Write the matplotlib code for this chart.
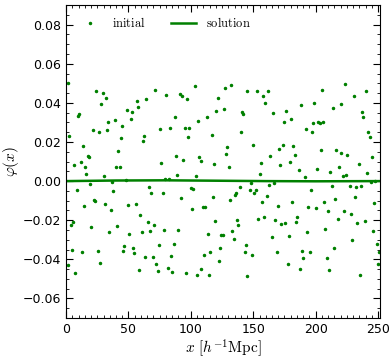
import matplotlib
matplotlib.use('Agg')
import matplotlib.pyplot as plt
from matplotlib.ticker import MultipleLocator

plt.rcParams['mathtext.fontset'] = 'cm'

# initial field (x in h^-1 Mpc)
x_init = [
    1.6, 24.3, 29.4, 32.1, 28.3, 10.4, 9.3, 33.9, 21.4, 26.2, 33.1, 2.7, 13.6, 17.4, 18.4, 11.8, 6.7, 15.5,
    16.3, 30.2, 19.5, 8.5, 22.2, 23.2, 14.4, 31.0, 5.6, 3.7, 20.3, 34.5, 4.5, 12.6, 25.4, 1.9, 27.0, 7.5,
    71.3, 56.6, 64.4, 48.9, 52.9, 57.7, 39.0, 51.8, 44.9, 62.5, 61.4, 44.1, 42.0, 40.1, 43.3, 47.8, 37.1,
    37.9, 66.5, 68.4, 49.7, 55.8, 36.1, 59.6, 65.4, 41.1, 70.3, 67.3, 50.8, 60.6, 46.7, 53.7, 46.0, 54.8,
    63.6, 69.4, 71.9, 58.8,
    103.1, 80.4, 91.1, 92.9, 96.9, 87.3, 105.8, 75.3, 83.1, 95.1, 98.8, 98.0, 88.1, 94.0, 76.4, 106.8,
    107.9, 89.2, 103.9, 79.6, 82.3, 99.9, 101.7, 77.4, 91.9, 100.9, 78.2, 90.0, 74.5, 86.3, 84.1, 81.4,
    73.4, 85.2, 96.1, 105.0, 108.4,
    132.5, 127.4, 145.1, 121.6, 112.7, 120.5, 126.4, 141.1, 142.1, 140.3, 116.7, 129.3, 128.2, 118.6,
    130.4, 139.2, 136.2, 135.2, 117.8, 131.4, 110.1, 111.7, 119.7, 137.3, 138.1, 133.3, 113.8, 124.5,
    125.6, 134.4, 123.7, 144.0, 143.2, 110.9, 115.7, 122.6, 114.6, 145.3,
    153.0, 161.8, 157.8, 159.7, 165.6, 176.5, 180.5, 174.6, 149.8, 173.6, 182.1, 170.6, 163.7, 155.9,
    171.4, 179.5, 155.1, 147.9, 162.9, 166.6, 147.1, 152.0, 150.9, 160.8, 156.8, 169.6, 181.3, 154.1,
    158.9, 167.7, 172.5, 175.4, 178.4, 164.8, 168.8, 149.0, 177.6,
    204.9, 188.3, 199.0, 214.0, 198.2, 201.9, 203.3, 205.9, 192.3, 197.1, 183.5, 204.1, 216.6, 220.1,
    186.4, 201.1, 211.8, 218.5, 191.5, 212.9, 196.3, 215.8, 207.0, 194.2, 200.1, 209.9, 217.7, 185.4,
    184.6, 207.8, 193.1, 214.8, 189.4, 195.3, 208.9, 190.2, 187.2, 211.0,
    223.6, 240.4, 230.6, 220.7, 237.5, 238.3, 242.3, 243.4, 225.5, 245.2, 234.8, 241.5, 221.7, 224.7,
    244.4, 247.9, 227.6, 232.7, 236.4, 231.6, 247.1, 222.5, 228.7, 239.4, 233.5, 246.3, 229.5, 249.0,
    250.9, 250.3, 235.6,
]
phi_init = [
    0.0501, 0.0460, 0.0451, 0.0424, 0.0393, 0.0341, 0.0334, 0.0300, 0.0261, 0.0252, 0.0261, 0.0232,
    0.0182, 0.0130, 0.0122, 0.0099, 0.0082, 0.0074, 0.0034, 0.0026, -0.0015, -0.0045, -0.0096, -0.0101,
    -0.0125, -0.0115, -0.0209, -0.0226, -0.0235, -0.0262, -0.0353, -0.0364, -0.0357, -0.0427, -0.0420,
    -0.0468,
    0.0465, 0.0410, 0.0418, 0.0365, 0.0355, 0.0379, 0.0314, 0.0319, 0.0280, 0.0232, 0.0206, 0.0218,
    0.0156, 0.0074, 0.0070, 0.0007, -0.0007, -0.0051, -0.0031, -0.0063, -0.0122, -0.0115, -0.0147,
    -0.0175, -0.0211, -0.0228, -0.0226, -0.0254, -0.0269, -0.0262, -0.0334, -0.0341, -0.0357, -0.0370,
    -0.0388, -0.0386, -0.0425, -0.0456,
    0.0487, 0.0442, 0.0444, 0.0436, 0.0420, 0.0329, 0.0305, 0.0268, 0.0269, 0.0269, 0.0269, 0.0228,
    0.0130, 0.0110, 0.0094, 0.0123, 0.0103, 0.0029, 0.0027, 0.0012, 0.0012, -0.0036, -0.0039, -0.0060,
    -0.0084, -0.0144, -0.0250, -0.0250, -0.0329, -0.0324, -0.0381, -0.0442, -0.0461, -0.0463, -0.0468,
    -0.0482, -0.0448,
    0.0490, 0.0477, 0.0461, 0.0425, 0.0329, 0.0358, 0.0367, 0.0353, 0.0343, 0.0250, 0.0235, 0.0172,
    0.0141, 0.0089, 0.0074, -0.0031, -0.0060, -0.0070, -0.0081, -0.0099, -0.0132, -0.0130, -0.0204,
    -0.0199, -0.0225, -0.0256, -0.0271, -0.0274, -0.0274, -0.0295, -0.0340, -0.0328, -0.0360, -0.0377,
    -0.0360, -0.0406, -0.0480, -0.0487,
    0.0460, 0.0463, 0.0434, 0.0398, 0.0348, 0.0357, 0.0317, 0.0300, 0.0184, 0.0187, 0.0180, 0.0165,
    0.0127, 0.0094, 0.0082, 0.0099, 0.0038, -0.0009, -0.0019, -0.0009, -0.0045, -0.0045, -0.0060,
    -0.0077, -0.0105, -0.0125, -0.0108, -0.0192, -0.0185, -0.0199, -0.0218, -0.0216, -0.0280, -0.0286,
    -0.0362, -0.0376, -0.0425,
    0.0468, 0.0388, 0.0401, 0.0376, 0.0297, 0.0300, 0.0298, 0.0302, 0.0264, 0.0250, 0.0135, 0.0158,
    0.0158, 0.0142, 0.0057, 0.0063, 0.0048, 0.0074, 0.0021, -0.0024, -0.0045, -0.0091, -0.0105,
    -0.0134, -0.0139, -0.0151, -0.0196, -0.0182, -0.0208, -0.0247, -0.0261, -0.0340, -0.0355, -0.0362,
    -0.0391, -0.0394, -0.0449, -0.0453,
    0.0494, 0.0461, 0.0434, 0.0393, 0.0352, 0.0328, 0.0249, 0.0223, 0.0134, 0.0123, 0.0086, 0.0041,
    0.0026, 0.0033, -0.0003, 0.0002, -0.0024, -0.0031, -0.0026, -0.0082, -0.0110, -0.0154, -0.0170,
    -0.0206, -0.0214, -0.0257, -0.0300, -0.0322, -0.0362, -0.0425, -0.0480,
]

# relaxed solution (essentially flat)
x_sol = [0, 40, 80, 120, 160, 200, 251.6]
phi_sol = [0.0, 0.0003, 0.0004, 0.0002, 0.0, -0.0001, 0.0]

fig = plt.figure(figsize=(3.91, 3.62), dpi=100)
ax = fig.add_axes([0.169, 0.1215, 0.803, 0.8645])

ax.plot(x_init, phi_init, '.', color='green', markersize=3.0, label=r'$\mathrm{initial}$')
ax.plot(x_sol, phi_sol, '-', color='green', lw=1.8, label=r'$\mathrm{solution}$')

ax.set_xlim(0, 251.6)
ax.set_ylim(-0.07, 0.09)
ax.xaxis.set_major_locator(MultipleLocator(50))
ax.xaxis.set_minor_locator(MultipleLocator(5))
ax.yaxis.set_major_locator(MultipleLocator(0.02))
ax.yaxis.set_minor_locator(MultipleLocator(0.005))
ax.tick_params(which='both', direction='in', top=True, right=True, labelsize=9)
ax.tick_params(which='major', length=5)
ax.tick_params(which='minor', length=2.5)

ax.set_xlabel(r'$x\ [h^{-1}\mathrm{Mpc}]$', fontsize=11, labelpad=1)
ax.set_ylabel(r'$\varphi(x)$', fontsize=11, labelpad=1)

ax.legend(loc='upper left', ncol=2, frameon=False, fontsize=9)

fig.savefig('out.png', dpi=100)
